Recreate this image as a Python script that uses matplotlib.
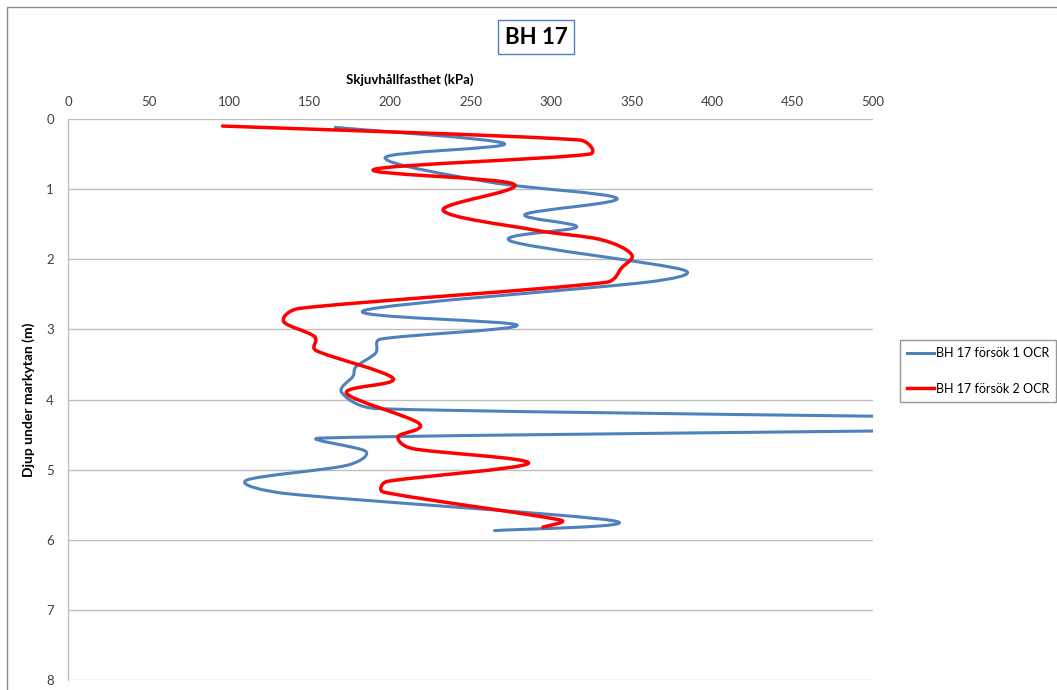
import matplotlib
matplotlib.use("Agg")
import matplotlib.pyplot as plt
from matplotlib.path import Path
from matplotlib.patches import PathPatch, Rectangle
from matplotlib.lines import Line2D
import numpy as np

plt.rcParams['font.family'] = ['Lato', 'DejaVu Sans']

# Skjuvhållfasthet (kPa) mot djup (m), BH 17
depth_1 = [0.12, 0.35, 0.55, 0.90, 1.13, 1.36, 1.54, 1.74, 2.15, 2.32, 2.73, 2.94,
           3.14, 3.34, 3.53, 3.67, 3.90, 4.13, 4.35, 4.55, 4.74, 4.94, 5.15, 5.34,
           5.73, 5.87]
strength_1 = [166, 271, 197, 262, 341, 284, 316, 275, 382, 362, 184, 279,
              194, 191, 179, 177, 170, 192, 760, 157, 185, 173, 111, 135,
              339, 265]

depth_2 = [0.10, 0.30, 0.50, 0.72, 0.93, 1.30, 1.58, 1.72, 1.93, 2.12, 2.33, 2.70,
           2.89, 3.10, 3.30, 3.70, 3.91, 4.34, 4.53, 4.70, 4.91, 5.17, 5.32, 5.72,
           5.82]
strength_2 = [96, 318, 324, 190, 277, 233, 289, 331, 350, 344, 334, 144,
              134, 153, 154, 202, 173, 218, 205, 214, 286, 198, 196, 306,
              295]

labels = ["BH 17 försök 1 OCR", "BH 17 försök 2 OCR"]
colors = ["#4F81BD", "#FF0000"]
widths = [2.2, 2.5]
x_ticks = list(range(0, 501, 50))
y_ticks = list(range(0, 9))


def smooth_path(ax, xs, ys):
    """Smoothed line (spreadsheet style) through the points as cubic Beziers.

    Handles are computed in display space and limited to half the segment
    length so that short steps next to long ones do not overshoot.
    """
    data = np.column_stack([xs, ys]).astype(float)
    p = ax.transData.transform(data)
    n = len(p)
    verts = [data[0]]
    codes = [Path.MOVETO]
    inv = ax.transData.inverted()
    for i in range(n - 1):
        p0 = p[i - 1] if i > 0 else p[i]
        p1 = p[i]
        p2 = p[i + 1]
        p3 = p[i + 2] if i + 2 < n else p[i + 1]
        d12 = np.hypot(*(p2 - p1))
        d02 = np.hypot(*(p2 - p0))
        d13 = np.hypot(*(p3 - p1))
        f1 = 1 / 6.0
        if d02 > 0 and d02 / 6.0 >= d12 / 2.0:
            f1 = d12 / (2.0 * d02)
        f2 = 1 / 6.0
        if d13 > 0 and d13 / 6.0 >= d12 / 2.0:
            f2 = d12 / (2.0 * d13)
        c1 = p1 + (p2 - p0) * f1
        c2 = p2 - (p3 - p1) * f2
        verts += list(inv.transform(np.array([c1, c2, p2])))
        codes += [Path.CURVE4] * 3
    return Path(verts, codes)


fig = plt.figure(figsize=(10.57, 6.90), dpi=100)
ax = fig.add_axes([0.0643, 0.0145, 0.7616, 0.8130])

ax.set_xlim(0, 500)
ax.set_ylim(8, 0)

# chart frame
fig.patches.append(Rectangle((7 / 1057, -0.5), 2.0, 1.5 - 7 / 690,
                             transform=fig.transFigure, fill=False,
                             edgecolor="#8C8C8C", linewidth=1.0))

for xs, ys, c, lw in [(strength_1, depth_1, colors[0], widths[0]),
                      (strength_2, depth_2, colors[1], widths[1])]:
    patch = PathPatch(smooth_path(ax, xs, ys), facecolor="none", edgecolor=c,
                      linewidth=lw, capstyle="round", joinstyle="round", zorder=3)
    ax.add_patch(patch)

ax.set_xticks(x_ticks)
ax.set_yticks(y_ticks)
ax.xaxis.tick_top()
ax.xaxis.set_label_position("top")
ax.tick_params(axis="both", length=0, labelsize=9.5, labelcolor="#404040")
ax.tick_params(axis="x", pad=8)
ax.tick_params(axis="y", pad=10)

ax.yaxis.grid(True, color="#BEBEBE", linewidth=1.0)
ax.set_axisbelow(True)
for s in ["top", "right", "bottom"]:
    ax.spines[s].set_visible(False)
ax.spines["left"].set_color("#BEBEBE")
ax.spines["left"].set_linewidth(1.0)

ax.set_xlabel("Skjuvhållfasthet (kPa)", fontsize=9.5, fontweight="bold")
ax.xaxis.set_label_coords(0.424, 1.062)
ax.set_ylabel("Djup under markytan (m)", fontsize=10, fontweight="bold")
ax.yaxis.set_label_coords(-0.041, 0.5)

fig.text(536 / 1057, 1 - 37 / 690, "BH 17", fontsize=16, fontweight="bold",
         ha="center", va="center",
         bbox=dict(boxstyle="square,pad=0.3", facecolor="white",
                   edgecolor="#4F81BD", linewidth=1.0))

handles = [Line2D([], [], color=c, linewidth=lw) for c, lw in zip(colors, widths)]
leg = fig.legend(handles, labels, loc="upper left",
                 bbox_to_anchor=(900 / 1057, 1 - 340 / 690),
                 fontsize=9, frameon=True, fancybox=False,
                 handlelength=2.2, handletextpad=0.15, labelspacing=1.9,
                 borderpad=0.55, borderaxespad=0.0)
leg.get_frame().set_edgecolor("#7F7F7F")
leg.get_frame().set_linewidth(1.0)

fig.savefig("out.png", dpi=100)
